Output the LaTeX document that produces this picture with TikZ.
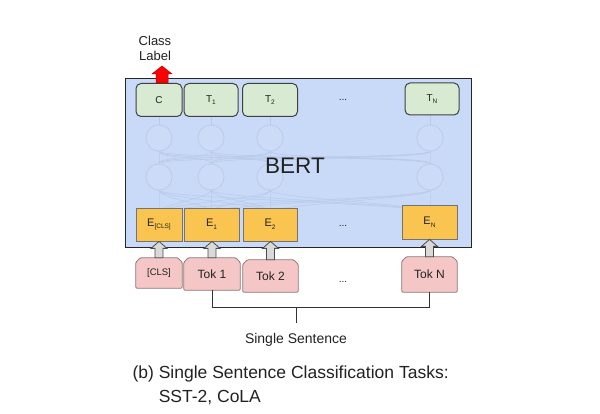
\documentclass[tikz,border=0pt]{standalone}
\usepackage{fontspec}
\setmainfont{Liberation Sans}
\usetikzlibrary{calc}
\definecolor{bertblue}{HTML}{C9DAF8}
\definecolor{netline}{HTML}{BACBE9}
\definecolor{netfill}{HTML}{CCDCF8}
\definecolor{tgreen}{HTML}{D9EAD3}
\definecolor{eorange}{HTML}{F9C550}
\definecolor{tokpink}{HTML}{F4C7C6}
\definecolor{tokborder}{HTML}{8E7474}
\definecolor{arrgray}{HTML}{D9D9D9}
\definecolor{txt}{HTML}{222222}
\newcommand\mysub[1]{\raisebox{-0.45ex}{\fontsize{6.5}{7}\selectfont #1}}
% from, to, shaft half, head half, head length, style
\newcommand\blockup[6]{%
  \path let \p1=(#1), \p2=(#2) in [#6]
    (\x1-#3,\y1) -- (\x1-#3,\y2-#5) -- (\x1-#4,\y2-#5) -- (\x1,\y2) -- (\x1+#4,\y2-#5)
    -- (\x1+#3,\y2-#5) -- (\x1+#3,\y1) -- cycle;}
% chamfered token outline for node #1
\newcommand\tokshape[1]{%
  \path[draw=tokborder,fill=tokpink,line width=0.8pt,rounded corners=1pt]
    let \p1=(#1.south west), \p2=(#1.north east) in
    (\x1,\y1) -- (\x1,\y2-4.5pt) -- (\x1+4.5pt,\y2) -- (\x2-4.5pt,\y2) -- (\x2,\y2-4.5pt)
    -- (\x2,\y1) -- cycle;}
\begin{document}
\begin{tikzpicture}[x=1pt,y=-1pt,
  greenbox/.style={draw=black!75,fill=tgreen,rounded corners=5pt,line width=1pt,
    minimum height=33pt,inner sep=0pt,text=txt,font=\fontsize{10}{12}\selectfont},
  orangebox/.style={draw=black!55,fill=eorange,line width=0.8pt,
    minimum height=33pt,inner sep=0pt,text=txt,font=\fontsize{11}{13}\selectfont},
  tokbox/.style={inner sep=0pt,text=txt,font=\fontsize{12}{14}\selectfont},
  netcirc/.style={draw=netline,fill=netfill,line width=0.6pt,circle,minimum size=26pt,inner sep=0pt},
  netedge/.style={draw=netline,line width=0.6pt},
  dots/.style={text=txt,font=\fontsize{10}{12}\selectfont}]
\useasboundingbox (0,0) rectangle (600,414);
\fill[white] (0,0) rectangle (600,414);
% BERT box
\node[draw=black!85,fill=bertblue,line width=1.3pt,minimum width=346pt,minimum height=169pt,inner sep=0pt,anchor=north west] (bert) at (125,78) {};
% background network
\foreach \n/\x in {a/159,b/211,c/270,d/430}{
  \node[netcirc] (u\n) at (\x,138) {};
  \node[netcirc] (l\n) at (\x,177) {};
}
\foreach \i in {a,b,c,d}{
  \foreach \j in {a,b,c,d}{
    \draw[netedge] (l\i.north) .. controls ($(l\i.north)+(0,-8)$) and ($(u\j.south)+(0,8)$) .. (u\j.south);
    \draw[netedge] ($(l\i.south)+(0,22)$) .. controls ($(l\i.south)+(0,14)$) and ($(l\j.south)+(0,8)$) .. (l\j.south);
  }
  \draw[netedge] (u\i.north) -- ++(0,-10);
}
\foreach \n/\x in {a/159,b/211,c/270,d/430}{
  \node[netcirc] at (\x,138) {};
  \node[netcirc] at (\x,177) {};
}
% top outputs
\node[greenbox,minimum width=46pt] (C) at (159,100) {C};
\node[greenbox,minimum width=54pt] (T1) at (211,100) {T\mysub{1}};
\node[greenbox,minimum width=55pt] (T2) at (270,100) {T\mysub{2}};
\node[greenbox,minimum width=54pt,minimum height=32pt] (TN) at (432,99) {T\mysub{N}};
\node[dots] (dtop) at (343,100) {...};
% BERT label
\node[text=txt,font=\fontsize{22.5}{26}\selectfont] (bertlbl) at (295,166) {BERT};
% embeddings
\node[orangebox,minimum width=46pt] (E0) at (159,224.5) {E\mysub{[CLS]}};
\node[orangebox,minimum width=55pt] (E1) at (211.5,224.5) {E\mysub{1}};
\node[orangebox,minimum width=54pt] (E2) at (270,224.5) {E\mysub{2}};
\node[orangebox,minimum width=55pt,minimum height=34pt] (EN) at (429.5,222) {E\mysub{N}};
\node[dots] (dmid) at (343,226) {...};
% tokens
\node[tokbox,minimum width=46pt,minimum height=30pt] (K0) at (159,273) {};
\node[tokbox,minimum width=56pt,minimum height=32pt] (K1) at (212,274) {};
\node[tokbox,minimum width=55pt,minimum height=32pt] (K2) at (270.5,276) {};
\node[tokbox,minimum width=55pt,minimum height=35pt] (KN) at (429.5,274.5) {};
\foreach \k in {K0,K1,K2,KN}{\tokshape{\k}}
\node[tokbox,font=\fontsize{9.5}{11}\selectfont] at (K0) {[CLS]};
\node[tokbox] at (K1) {Tok 1};
\node[tokbox] at (K2) {Tok 2};
\node[tokbox] at (KN) {Tok N};
\node[dots] (dbot) at (343,282) {...};
% gray block arrows
\foreach \a/\b in {K0/E0,K1/E1,K2/E2,KN/EN}{
  \blockup{\a.north}{\b.south}{4pt}{8pt}{7pt}{draw=black!70,fill=arrgray,line width=0.8pt}
}
% class label arrow
\coordinate (ctip) at (162,66);
\coordinate (cbase) at (162,83);
\blockup{cbase}{ctip}{6pt}{10pt}{8pt}{draw=red!70!black,fill=red,line width=0.5pt}
\node[text=txt,font=\fontsize{13}{15}\selectfont,align=center] (cls) at (155,48) {Class\\Label};
% bracket
\coordinate (bl) at (212,307);
\coordinate (br) at (429.5,307);
\coordinate (bm) at (296,307);
\draw[black!80,line width=0.8pt] (K1.south) -- (K1.south |- bl) -- (KN.south |- br) -- (KN.south);
\draw[black!80,line width=0.8pt] (bm) -- ++(0,16) coordinate (bmb);
\node[text=txt,font=\fontsize{14}{16}\selectfont] (ss) at (296,340) {Single Sentence};
% caption
\node[text=txt,font=\fontsize{17.5}{24}\selectfont,anchor=west,align=left] (cap) at (129,385)
  {(b) Single Sentence Classification Tasks:\\\hphantom{(b) }SST-2, CoLA};
\end{tikzpicture}
\end{document}
